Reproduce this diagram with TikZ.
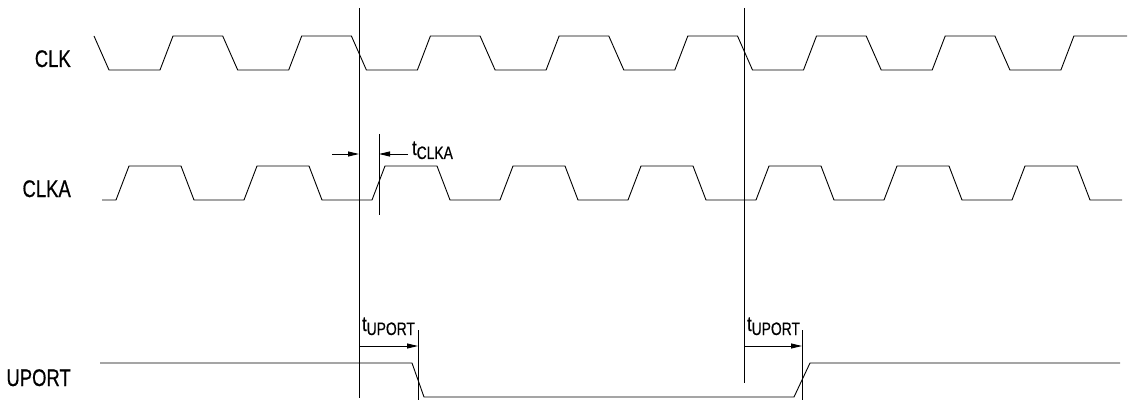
\documentclass[tikz,border=0pt]{standalone}
\usepackage{fontspec}
\setmainfont{Liberation Sans}[FakeStretch=0.77,FakeBold=0.6]
\usetikzlibrary{arrows.meta}
\newcommand{\tlab}[1]{t\raisebox{-4pt}{\fontsize{18}{18}\selectfont #1}}

\begin{document}
\begin{tikzpicture}[x=1pt,y=-1pt]
\tikzset{wave/.style={line width=0.9pt,black},vline/.style={line width=0.9pt,black},
 sig/.style={font=\fontsize{24}{24}\selectfont,anchor=base east,inner sep=0pt},
 tl/.style={font=\fontsize{21}{21}\selectfont,anchor=base west,inner sep=0pt},
 dim/.style={-{Triangle[length=11pt,width=5pt]},line width=0.9pt}}
\useasboundingbox (0,0) rectangle (1130,401);
% signal names
\node[sig] (clk) at (71,67) {CLK};
\node[sig] (clka) at (71,197) {CLKA};
\node[sig] (uport) at (71,386) {UPORT};
% CLK
\draw[wave] (94,36) \foreach \k in {0,...,7}{ -- ({94+128.7*\k},36) -- ({109+128.7*\k},70)
 -- ({160+128.7*\k},70) -- ({173+128.7*\k},36)} -- (1127,36);
% CLKA
\draw[wave] (102,200) \foreach \k in {0,...,7}{ -- ({116+128*\k},200) -- ({129+128*\k},166)
 -- ({181+128*\k},166) -- ({194+128*\k},200)} -- (1122,200);
% UPORT
\draw[wave] (100,363) -- (412,363) -- (424,397) -- (794,397) -- (810,363) -- (1120,363);
% reference edges
\coordinate (e1t) at (359,8);\coordinate (e1b) at (359,398);
\coordinate (e2t) at (744,8);\coordinate (e2b) at (744,383);
\coordinate (k1t) at (379,134);\coordinate (k1b) at (379,215);
\coordinate (u1t) at (418,330);\coordinate (u1b) at (418,400);
\coordinate (u2t) at (802,330);\coordinate (u2b) at (802,400);
\draw[vline] (e1t)--(e1b);\draw[vline] (e2t)--(e2b);
\draw[vline] (k1t)--(k1b);\draw[vline] (u1t)--(u1b);\draw[vline] (u2t)--(u2b);
% tCLKA
\coordinate (ka) at (332,154);\coordinate (kb) at (359,154);
\coordinate (kc) at (408,154);\coordinate (kd) at (379,154);
\draw[dim] (ka)--(kb);\draw[dim] (kc)--(kd);
\node[tl] (tclka) at (412,155) {\tlab{CLKA}};
% tUPORT
\coordinate (ua) at (359,346);\coordinate (ub) at (418,346);
\coordinate (uc) at (744,346);\coordinate (ud) at (802,346);
\draw[dim] (ua)--(ub);\draw[dim] (uc)--(ud);
\node[tl] (tup1) at (362,331) {\tlab{UPORT}};
\node[tl] (tup2) at (747,331) {\tlab{UPORT}};
\end{tikzpicture}
\end{document}
